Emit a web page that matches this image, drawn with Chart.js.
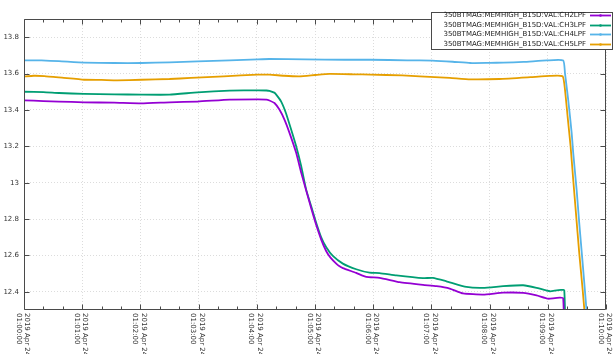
<!DOCTYPE html>
<html>
<head>
<meta charset="utf-8">
<script src="https://cdn.jsdelivr.net/npm/chart.js@4/dist/chart.umd.min.js"></script>
<style>html,body{margin:0;padding:0;background:#fff;}canvas{display:block;}</style>
</head>
<body>
<canvas id="c" width="613" height="354"></canvas>
<script>
// Series names
const seriesNames = [
  '350BTMAG:MEMHIGH_B15D:VAL:CH2LPF',
  '350BTMAG:MEMHIGH_B15D:VAL:CH3LPF',
  '350BTMAG:MEMHIGH_B15D:VAL:CH4LPF',
  '350BTMAG:MEMHIGH_B15D:VAL:CH5LPF'
];
const seriesColors = ['#9400d3', '#009e73', '#56b4e9', '#e69f00'];

// Time (seconds after 2019 Apr 24 01:00:00) and values per series
const ch2Time = [0, 20, 36, 62, 93, 121, 150, 179, 212, 241, 250, 253, 258.2, 263.3, 268.5, 273.7, 280.6, 285.8, 292.6, 299.5, 306.4, 311.6, 316, 321.9, 325.3, 328.7, 342.5, 352.9, 366.6, 387.3, 411.3, 425.2, 438.9, 452.6, 473.3, 493.9, 514.6, 528.4, 540.4, 555.9, 557.5];
const ch2Vals = [13.453, 13.449, 13.446, 13.442, 13.440, 13.436, 13.442, 13.446, 13.457, 13.458, 13.457, 13.452, 13.438, 13.402, 13.347, 13.274, 13.164, 13.054, 12.925, 12.797, 12.687, 12.623, 12.588, 12.555, 12.540, 12.530, 12.504, 12.482, 12.477, 12.453, 12.438, 12.431, 12.418, 12.391, 12.385, 12.395, 12.394, 12.380, 12.362, 12.363, 11.0];

const ch3Time = [0, 20, 36, 62, 93, 121, 150, 179, 212, 241, 250, 253, 258, 260, 265, 270, 275.4, 280.6, 285.8, 290.9, 296.1, 301.2, 306.4, 311.6, 318.4, 328.7, 342.5, 356.3, 366.6, 383.9, 411.3, 421.6, 435.5, 456.1, 473.3, 493.9, 514.6, 528.4, 542.2, 557.0, 559.0];
const ch3Vals = [13.500, 13.498, 13.493, 13.488, 13.486, 13.484, 13.484, 13.497, 13.506, 13.508, 13.507, 13.505, 13.495, 13.484, 13.447, 13.383, 13.292, 13.200, 13.090, 12.962, 12.870, 12.780, 12.700, 12.645, 12.597, 12.555, 12.524, 12.505, 12.503, 12.490, 12.475, 12.477, 12.458, 12.427, 12.422, 12.431, 12.436, 12.422, 12.403, 12.407, 11.0];

const ch4Time = [0, 18, 36, 62, 93, 121, 150, 179, 212, 241, 253, 290, 330, 357, 395, 421, 442, 460, 480, 494, 515, 539, 555.9, 557.7, 561.0, 564.6, 566.2, 569.7, 572.4, 575.9, 579.3, 582.0];
const ch4Vals = [13.672, 13.672, 13.668, 13.660, 13.658, 13.658, 13.662, 13.667, 13.672, 13.678, 13.680, 13.678, 13.676, 13.676, 13.673, 13.671, 13.665, 13.658, 13.659, 13.660, 13.664, 13.672, 13.672, 13.603, 13.457, 13.274, 13.164, 12.962, 12.779, 12.559, 12.339, 12.150];

const ch5Time = [0, 10, 21, 41, 62, 80, 96, 121, 150, 172, 206, 241, 253, 268, 284, 300, 315, 340, 357, 390, 408, 439, 460, 490, 522, 542, 555.3, 557.7, 560.4, 563.5, 566.2, 569.0, 572.4, 575.9, 579.3];
const ch5Vals = [13.584, 13.588, 13.586, 13.576, 13.566, 13.565, 13.563, 13.566, 13.570, 13.576, 13.585, 13.594, 13.594, 13.588, 13.585, 13.592, 13.598, 13.596, 13.594, 13.590, 13.585, 13.576, 13.568, 13.570, 13.580, 13.587, 13.585, 13.512, 13.365, 13.200, 13.017, 12.834, 12.614, 12.413, 12.200];

// Axis ticks and labels
const xTicks = [0, 60, 120, 180, 240, 300, 360, 420, 480, 540, 600];
const xMinorTicks = [20, 40, 80, 100, 140, 160, 200, 220, 260, 280, 320, 340, 380, 400, 440, 460, 500, 520, 560, 580];
const xTickDate = '2019 Apr 24';
const xTickLabels = ['01:00:00', '01:01:00', '01:02:00', '01:03:00', '01:04:00', '01:05:00', '01:06:00', '01:07:00', '01:08:00', '01:09:00', '01:10:00'];
const yTicks = [12.4, 12.6, 12.8, 13.0, 13.2, 13.4, 13.6, 13.8];
const yTickLabels = ['12.4', '12.6', '12.8', '13', '13.2', '13.4', '13.6', '13.8'];

const FONT = '7px "DejaVu Sans"';
const TEXT = '#333333';
const FRAME = '#4a4a4a';
const GRID = '#dcdcdc';

const seriesTimes = [ch2Time, ch3Time, ch4Time, ch5Time];
const seriesVals = [ch2Vals, ch3Vals, ch4Vals, ch5Vals];

const datasets = seriesNames.map((name, k) => ({
  label: name,
  data: seriesTimes[k].map((t, i) => ({x: t, y: seriesVals[k][i]})),
  borderColor: seriesColors[k],
  backgroundColor: seriesColors[k],
  borderWidth: 1.8,
  pointRadius: 0,
  tension: 0.15,
  clip: 0
}));

const framePlugin = {
  id: 'frame',
  afterDatasetsDraw(chart) {
    const ctx = chart.ctx;
    const a = chart.chartArea;
    const xs = chart.scales.x, ys = chart.scales.y;
    const L = Math.round(a.left) + 0.5, R = Math.round(a.right) - 0.5;
    const T = Math.round(a.top) + 0.5, B = Math.round(a.bottom) - 0.5;
    ctx.save();
    ctx.strokeStyle = FRAME;
    ctx.lineWidth = 1;
    ctx.beginPath();
    ctx.rect(L, T, R - L, B - T);
    xTicks.forEach(v => {
      const p = Math.round(xs.getPixelForValue(v)) + 0.5;
      ctx.moveTo(p, B); ctx.lineTo(p, B - 5);
      ctx.moveTo(p, T); ctx.lineTo(p, T + 5);
    });
    xMinorTicks.forEach(v => {
      const p = Math.round(xs.getPixelForValue(v)) + 0.5;
      ctx.moveTo(p, B); ctx.lineTo(p, B - 3);
      ctx.moveTo(p, T); ctx.lineTo(p, T + 3);
    });
    yTicks.forEach(v => {
      const p = Math.round(ys.getPixelForValue(v)) + 0.5;
      ctx.moveTo(L, p); ctx.lineTo(L + 5, p);
      ctx.moveTo(R, p); ctx.lineTo(R - 5, p);
    });
    ctx.stroke();

    // x tick labels, rotated clockwise, two lines
    ctx.fillStyle = TEXT;
    ctx.font = FONT;
    ctx.textAlign = 'left';
    ctx.textBaseline = 'middle';
    xTicks.forEach((v, i) => {
      const p = xs.getPixelForValue(v);
      ctx.save();
      ctx.translate(p, a.bottom + 3);
      ctx.rotate(Math.PI / 2);
      ctx.fillText(xTickDate, 0, -3);
      ctx.fillText(xTickLabels[i], 0, 5.5);
      ctx.restore();
    });

    // legend box (top right)
    const bx = 431.5, by = 12.5, bw = 181, bh = 37;
    ctx.fillStyle = '#ffffff';
    ctx.fillRect(bx, by, bw, bh);
    ctx.strokeStyle = FRAME;
    ctx.strokeRect(bx, by, bw, bh);
    ctx.textAlign = 'right';
    ctx.textBaseline = 'middle';
    seriesNames.forEach((name, k) => {
      const y = 15.3 + k * 9.5;
      ctx.fillStyle = '#222222';
      ctx.fillText(name, 586, y);
      ctx.strokeStyle = seriesColors[k];
      ctx.lineWidth = 1.8;
      ctx.beginPath();
      ctx.moveTo(590, Math.round(y) + 0.5);
      ctx.lineTo(611, Math.round(y) + 0.5);
      ctx.stroke();
      ctx.fillStyle = seriesColors[k];
      ctx.beginPath();
      ctx.arc(600.5, Math.round(y) + 0.5, 1.3, 0, Math.PI * 2);
      ctx.fill();
    });
    ctx.restore();
  }
};

new Chart(document.getElementById('c'), {
  type: 'line',
  data: { datasets },
  options: {
    responsive: false,
    animation: false,
    devicePixelRatio: 1,
    layout: { padding: { top: 19, right: 7, bottom: 0, left: 0 } },
    plugins: { legend: { display: false }, tooltip: { enabled: false } },
    scales: {
      x: {
        type: 'linear',
        min: 0, max: 600,
        afterBuildTicks: s => { s.ticks = xTicks.map(v => ({value: v})); },
        afterFit: s => { s.height = 44; },
        ticks: { display: false },
        grid: { color: GRID, lineWidth: 1, drawTicks: false },
        border: { display: false, dash: [1, 2] }
      },
      y: {
        type: 'linear',
        min: 12.3, max: 13.9,
        afterBuildTicks: s => { s.ticks = yTicks.map(v => ({value: v})); },
        afterFit: s => { s.width = 24; },
        ticks: {
          padding: 5,
          color: TEXT,
          font: { family: 'DejaVu Sans', size: 7 },
          callback: (v, i) => yTickLabels[i]
        },
        grid: { color: GRID, lineWidth: 1, drawTicks: false },
        border: { display: false, dash: [1, 2] }
      }
    }
  },
  plugins: [framePlugin]
});
</script>
</body>
</html>
